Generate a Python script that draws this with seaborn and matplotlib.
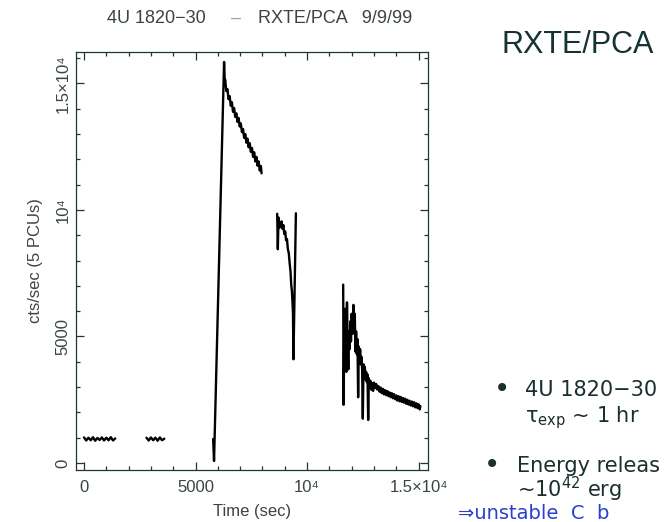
import numpy as np
import pandas as pd
import matplotlib
matplotlib.use("Agg")
import matplotlib.pyplot as plt
import seaborn as sns
from matplotlib.ticker import MultipleLocator, FixedLocator, FixedFormatter

# ---------------- data ----------------
seg1_t = [0, 100, 200, 300, 400, 500, 600, 700, 800, 900, 1000, 1100, 1200, 1300, 1400]
seg1_c = [1010, 890, 1000, 900, 1020, 880, 990, 910, 1010, 890, 1000, 900, 1020, 890, 970]

seg2_t = [2800, 2900, 3000, 3100, 3200, 3300, 3400, 3500, 3600]
seg2_c = [1000, 890, 1010, 900, 1000, 880, 1010, 900, 960]

seg3_t = [5790, 5830, 6280, 6310, 6330, 6380, 6430, 6480, 6530, 6580, 6630, 6680, 6730,
          6780, 6830, 6880, 6930, 6980, 7030, 7080, 7130, 7180, 7230, 7280, 7330, 7380,
          7430, 7480, 7530, 7580, 7630, 7680, 7730, 7780, 7830, 7880, 7930, 7960]
seg3_c = [950, 80, 15850, 15100, 15150, 14700, 14780, 14380, 14500, 14120, 14260, 13880, 14030,
          13680, 13820, 13480, 13640, 13300, 13420, 13080, 13200, 12850, 13000, 12660, 12820, 12480,
          12640, 12300, 12450, 12100, 12280, 11920, 12100, 11750, 11920, 11560, 11740, 11450]

seg4_t = [8660, 8690, 8720, 8760, 8800, 8830, 8860, 8900, 8940, 8980, 9020, 9060, 9100,
          9140, 9180, 9220, 9260, 9290, 9320, 9350, 9370, 9390, 9500]
seg4_c = [9850, 8450, 9700, 9300, 9500, 9350, 9550, 9250, 9400, 9050, 9150, 8800, 8850,
          8450, 8300, 7900, 7550, 7050, 6800, 6300, 5900, 4100, 9870]

seg5_t = [11620, 11640, 11670, 11700, 11730, 11760, 11790, 11820, 11850, 11880, 11910, 11940,
          11970, 12000, 12040, 12080, 12110, 12140, 12170, 12200, 12230, 12260, 12290, 12320,
          12350, 12380, 12410, 12440, 12470, 12500, 12530, 12560, 12590, 12620, 12650, 12680,
          12710, 12740, 12770, 12800, 12840, 12880, 12920, 12960,
          13000, 13050, 13100, 13150, 13200, 13250, 13300, 13350, 13400, 13450, 13500, 13550,
          13600, 13650, 13700, 13750, 13800, 13850, 13900, 13950, 14000, 14050, 14100, 14150,
          14200, 14250, 14300, 14350, 14400, 14450, 14500, 14550, 14600, 14650, 14700, 14750,
          14800, 14850, 14900, 14950, 15000, 15050, 15080]
seg5_c = [7050, 2300, 5600, 4300, 6100, 3600, 6350, 4800, 3700, 5200, 4500, 5600,
          4800, 5900, 5100, 6250, 5400, 5900, 4400, 5200, 4300, 4900, 2600, 4600,
          4100, 4500, 3900, 4200, 3700, 1750, 3900, 3500, 3800, 3300, 3600, 3200,
          3500, 1700, 3350, 3000, 3250, 2900, 3150, 2850,
          3180, 2960, 3120, 2900, 3040, 2820, 2980, 2760, 2930, 2710, 2880, 2680,
          2840, 2640, 2790, 2600, 2760, 2560, 2720, 2520, 2670, 2470, 2640, 2440,
          2610, 2410, 2570, 2380, 2540, 2340, 2500, 2310, 2460, 2270, 2430, 2240,
          2400, 2200, 2360, 2170, 2320, 2120, 2250]

x_ticks = [0, 5000, 10000, 15000]
x_tick_labels = ["0", "5000", "10\u2074", "1.5\u00d710\u2074"]
y_ticks = [0, 5000, 10000, 15000]
y_tick_labels = ["0", "5000", "10\u2074", "1.5\u00d710\u2074"]

segments = [(seg1_t, seg1_c), (seg2_t, seg2_c), (seg3_t, seg3_c), (seg4_t, seg4_c), (seg5_t, seg5_c)]
frames = []
for i, (t, c) in enumerate(segments):
    frames.append(pd.DataFrame({"t": t, "c": c, "seg": i}))
df = pd.concat(frames, ignore_index=True)

# ---------------- style ----------------
sns.set_theme(style="ticks")
FAM = ["Liberation Sans", "DejaVu Sans"]
plt.rcParams["font.family"] = FAM
plt.rcParams["mathtext.default"] = "regular"

axis_col = "#1e3636"
txt_col = "#3a4444"

fig = plt.figure(figsize=(6.67, 5.22), dpi=100)
fig.patch.set_facecolor("white")
ax = fig.add_axes([0.1139, 0.0996, 0.5277, 0.8008])
ax.set_facecolor("white")

sns.lineplot(data=df, x="t", y="c", units="seg", estimator=None, sort=False,
             color="black", lw=1.7, ax=ax, legend=False)

ax.set_xlim(-360, 15420)
ax.set_ylim(-277, 16245)

ax.xaxis.set_major_locator(FixedLocator(x_ticks))
ax.xaxis.set_major_formatter(FixedFormatter(x_tick_labels))
ax.xaxis.set_minor_locator(MultipleLocator(1000))
ax.yaxis.set_major_locator(FixedLocator(y_ticks))
ax.yaxis.set_major_formatter(FixedFormatter(y_tick_labels))
ax.yaxis.set_minor_locator(MultipleLocator(1000))

ax.tick_params(which="both", direction="in", top=True, right=True, color=axis_col,
               width=0.9, labelcolor=txt_col, labelsize=12)
ax.tick_params(which="major", length=6)
ax.tick_params(which="minor", length=3)
ax.tick_params(axis="x", which="major", pad=7)
ax.tick_params(axis="y", which="major", pad=4)
for lbl in ax.get_yticklabels():
    lbl.set_rotation(90)
    lbl.set_va("center")

for s in ax.spines.values():
    s.set_color(axis_col)
    s.set_linewidth(0.9)
    s.set_visible(True)

ax.set_xlabel("Time (sec)", fontsize=12, color=txt_col, labelpad=7)
ax.set_ylabel("cts/sec (5 PCUs)", fontsize=12, color=txt_col, labelpad=9)

# title (plot header)
W, H = 667.0, 522.0
def fx(px):
    return px / W
def fy(py):
    return 1 - py / H

fig.text(fx(107), fy(23), "4U 1820\u221230", fontsize=13, color=txt_col, va="baseline", ha="left")
fig.text(fx(236), fy(23), "\u2013", fontsize=13, color="#9aa6a6", va="baseline", ha="center")
fig.text(fx(412), fy(23), "RXTE/PCA   9/9/99", fontsize=13, color=txt_col, va="baseline", ha="right")

# slide annotations on the right
fig.text(fx(502), fy(53), "RXTE/PCA", fontsize=22, color="#173232", va="baseline", ha="left")

bul_col = "#1a2e2e"
fig.text(fx(502), fy(397), "\u2022", fontsize=20, color=bul_col, va="baseline", ha="center",
         family="DejaVu Sans")
fig.text(fx(525), fy(396), "4U 1820\u221230", fontsize=15, color=bul_col, va="baseline",
         ha="left", family="DejaVu Sans")
fig.text(fx(525), fy(422), r"$\tau_{\rm exp}$ ~ 1 hr", fontsize=15, color=bul_col,
         va="baseline", ha="left", family="DejaVu Sans")
fig.text(fx(492), fy(473), "\u2022", fontsize=20, color=bul_col, va="baseline", ha="center",
         family="DejaVu Sans")
fig.text(fx(517), fy(472), "Energy releas", fontsize=15, color=bul_col, va="baseline",
         ha="left", family="DejaVu Sans")
fig.text(fx(517), fy(497), r"~10$^{42}$ erg", fontsize=15, color=bul_col, va="baseline",
         ha="left", family="DejaVu Sans")
fig.text(fx(458), fy(519), "\u21d2unstable  C  b", fontsize=14, color="#2a3fd0",
         va="baseline", ha="left", family="DejaVu Sans")

fig.savefig("out.png", dpi=100, facecolor="white")
